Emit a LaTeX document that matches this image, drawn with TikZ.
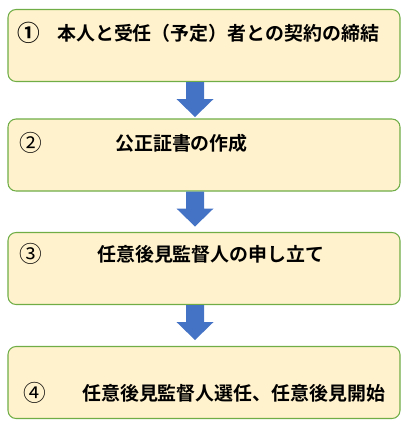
\documentclass[tikz,border=0pt]{standalone}
\usepackage{fontspec}
\newfontfamily\cjk{Noto Sans CJK JP}[BoldFont={Noto Sans CJK JP Bold}]
\usepackage{tikz}
\definecolor{boxfill}{HTML}{FFF2CC}
\definecolor{boxline}{HTML}{70AD47}
\definecolor{arrowblue}{HTML}{4472C4}

\begin{document}
\begin{tikzpicture}[x=0.75pt, y=-0.75pt,
	stepbox/.style={draw=boxline, fill=boxfill, line width=0.8pt, rounded corners=6pt, minimum width=294pt, minimum height=54pt, inner sep=0pt},
	num/.style={font=\cjk\fontsize{17pt}{17pt}\selectfont, inner sep=0pt},
	label/.style={font=\cjk\bfseries\fontsize{14.2pt}{14pt}\selectfont, anchor=west, inner sep=0pt},
	flowarrow/.style={fill=arrowblue}]
	\useasboundingbox (0,0) rectangle (418,433);
	% Define boxes
	\node[stepbox] at (204, 45.5) (b1) {};
	\node[stepbox] at (204, 155) (b2) {};
	\node[stepbox] at (204, 268.5) (b3) {};
	\node[stepbox] at (204, 382.5) (b4) {};
	
	% Texts inside the boxes
	\node[num, font=\cjk\bfseries\fontsize{17pt}{17pt}\selectfont] at (29, 33) (n1) {①};
	\node[label] at (57, 33) (t1) {本人と受任（予定）者との契約の締結};
	\node[num] at (31, 143) (n2) {②};
	\node[label] at (115, 143) (t2) {公正証書の作成};
	\node[num] at (31, 254) (n3) {③};
	\node[label] at (97, 254) (t3) {任意後見監督人の申し立て};
	\node[num] at (35, 393) (n4) {④};
	\node[label] at (82, 393) (t4) {任意後見監督人選任、任意後見開始};
	
	% Draw block arrows between the boxes
	\foreach \b in {b1, b2, b3}
		\fill[flowarrow] ([xshift=-6.75pt]\b.south) +(-9,0) -- +(-9,17) -- +(-18.5,17) -- +(0,35) -- +(18.5,17) -- +(9,17) -- +(9,0) -- cycle;
\end{tikzpicture}
\end{document}
